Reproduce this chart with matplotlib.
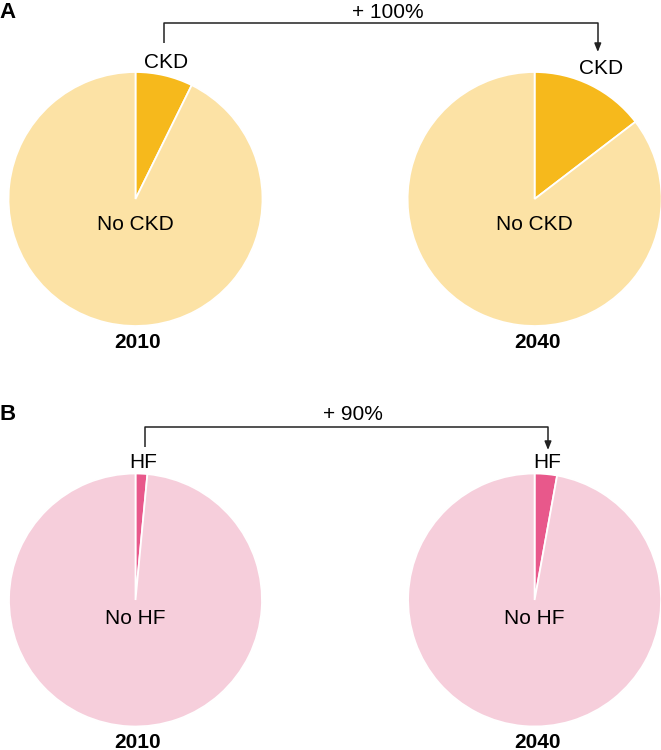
import matplotlib
matplotlib.use('Agg')
from matplotlib import pyplot as plt

plt.rcParams['font.family'] = ['Liberation Sans', 'DejaVu Sans']

# data (percent of population)
years = ['2010', '2040']
ckd_share = [7.3, 14.6]
hf_share = [1.5, 2.85]
ckd_labels = ('CKD', 'No CKD')
hf_labels = ('HF', 'No HF')
ckd_change = '+ 100%'
hf_change = '+ 90%'

ckd_colors = ('#F6B91C', '#FCE2A5')
hf_colors = ('#E8588B', '#F6CEDB')

W, H = 661, 750
fig = plt.figure(figsize=(W / 100, H / 100), dpi=100)
ax = fig.add_axes([0, 0, 1, 1])
ax.set_xlim(0, W)
ax.set_ylim(0, H)
ax.set_aspect('equal')
ax.axis('off')


def Y(y):
    # picture rows -> axes units (y up)
    return H - y


def panel(shares, labels, colors, change, letter, cy, r, lab_pos, inner_y,
          year_y, bracket):
    xs = (135.5, 534.6)
    for i, s in enumerate(shares):
        ax.pie([s, 100 - s], colors=colors, startangle=90, counterclock=False,
               center=(xs[i], Y(cy)), radius=r, frame=True,
               wedgeprops=dict(edgecolor='white', linewidth=1.3))
        ax.text(lab_pos[i][0], Y(lab_pos[i][1]), labels[0], ha='center',
                va='center', fontsize=15)
        ax.text(xs[i], Y(inner_y), labels[1], ha='center', va='center',
                fontsize=15)
        ax.text(xs[i] + 2.5, Y(year_y), years[i], ha='center', va='center',
                fontsize=15, fontweight='bold')
    (x0, y0), (x1, y1), ytop, ty = bracket
    ax.plot([x0, x0, x1, x1], [Y(y0), Y(ytop), Y(ytop), Y(y1 - 7)],
            color='#222222', lw=1.1, solid_capstyle='butt')
    ax.annotate('', xy=(x1, Y(y1)), xytext=(x1, Y(y1 - 8)),
                arrowprops=dict(arrowstyle='-|>,head_length=0.5,head_width=0.2',
                                color='#222222', lw=1.1, shrinkA=0, shrinkB=0))
    ax.text((x0 + x1) / 2 + 7, Y(ty), change, ha='center', va='center',
            fontsize=15)
    ax.text(8, Y(ty), letter, ha='center', va='center', fontsize=16,
            fontweight='bold')


panel(ckd_share, ckd_labels, ckd_colors, ckd_change, 'A', 199, 127,
      [(166.5, 62), (600.8, 69)], 225, 343,
      ((164.4, 43), (597.8, 52), 22.7, 12))
panel(hf_share, hf_labels, hf_colors, hf_change, 'B', 600, 126.5,
      [(143, 463), (547, 463)], 619, 742,
      ((144.6, 446.7), (548, 450), 426.7, 415))

ax.set_xlim(0, W)
ax.set_ylim(0, H)
ax.set_aspect('equal')
ax.axis('off')

fig.savefig('out.png', dpi=100, facecolor='white')
